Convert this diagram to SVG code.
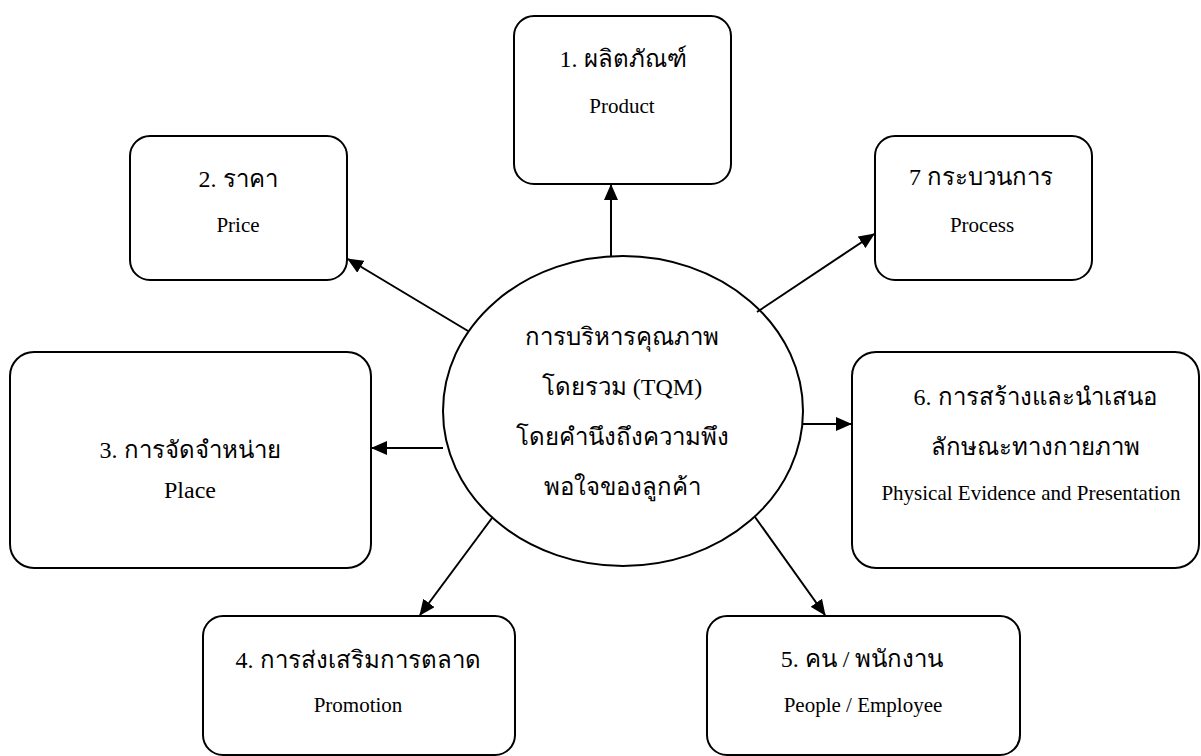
<svg xmlns="http://www.w3.org/2000/svg" width="1201" height="756" viewBox="0 0 1201 756">
<defs>
<marker id="ah" markerWidth="16" markerHeight="14" refX="15" refY="7" orient="auto" markerUnits="userSpaceOnUse">
<path d="M0,0 L16,7 L0,14 Z" fill="#000"/>
</marker>
<style>
.box{fill:#fff;stroke:#000;stroke-width:2}
.th{font-family:"Liberation Serif","Noto Sans",serif;font-size:24px;fill:#000;text-anchor:middle}
.en{font-family:"Liberation Serif",serif;font-size:21px;fill:#000;text-anchor:middle}
.conn{stroke:#000;stroke-width:2;fill:none;marker-end:url(#ah)}
</style>
</defs>
<rect width="1201" height="756" fill="#fff"/>
<g id="connectors">
<line class="conn" x1="611" y1="257" x2="611" y2="185"/>
<line class="conn" x1="468" y1="331" x2="348" y2="259"/>
<line class="conn" x1="757" y1="312" x2="874" y2="234"/>
<line class="conn" x1="443" y1="448" x2="372" y2="448"/>
<line class="conn" x1="802" y1="424" x2="851" y2="424"/>
<line class="conn" x1="492" y1="518" x2="420" y2="615"/>
<line class="conn" x1="755" y1="517" x2="825" y2="615"/>
</g>
<g id="center">
<ellipse cx="623" cy="411" rx="180" ry="155" fill="none" stroke="#000" stroke-width="2"/>
<text class="th" x="622" y="345">การบริหารคุณภาพ</text>
<text class="th" x="622" y="395">โดยรวม (TQM)</text>
<text class="th" x="622" y="445">โดยคำนึงถึงความพึง</text>
<text class="th" x="622" y="495">พอใจของลูกค้า</text>
</g>
<g id="product">
<rect class="box" x="514" y="16" width="217" height="168" rx="20"/>
<text class="th" x="623" y="67">1. ผลิตภัณฑ์</text>
<text class="en" x="622" y="113">Product</text>
</g>
<g id="price">
<rect class="box" x="130" y="136" width="217" height="144" rx="20"/>
<text class="th" x="238" y="187">2. ราคา</text>
<text class="en" x="238" y="232">Price</text>
</g>
<g id="process">
<rect class="box" x="875" y="136" width="217" height="144" rx="20"/>
<text class="th" x="981" y="185">7 กระบวนการ</text>
<text class="en" x="982" y="232">Process</text>
</g>
<g id="place">
<rect class="box" x="10" y="352" width="361" height="216" rx="24"/>
<text class="th" x="190" y="458">3. การจัดจำหน่าย</text>
<text class="en" x="190" y="498" style="font-size:24px">Place</text>
</g>
<g id="physical">
<rect class="box" x="852" y="352" width="347" height="216" rx="24"/>
<text class="th" x="1035" y="405">6. การสร้างและนำเสนอ</text>
<text class="th" x="1035" y="455">ลักษณะทางกายภาพ</text>
<text class="en" x="1031" y="500">Physical Evidence and Presentation</text>
</g>
<g id="promotion">
<rect class="box" x="203" y="616" width="312" height="139" rx="20"/>
<text class="th" x="358" y="668">4. การส่งเสริมการตลาด</text>
<text class="en" x="358" y="712">Promotion</text>
</g>
<g id="people">
<rect class="box" x="707" y="616" width="313" height="139" rx="20"/>
<text class="th" x="862" y="667">5. คน / พนักงาน</text>
<text class="en" x="863" y="712">People / Employee</text>
</g>
</svg>
